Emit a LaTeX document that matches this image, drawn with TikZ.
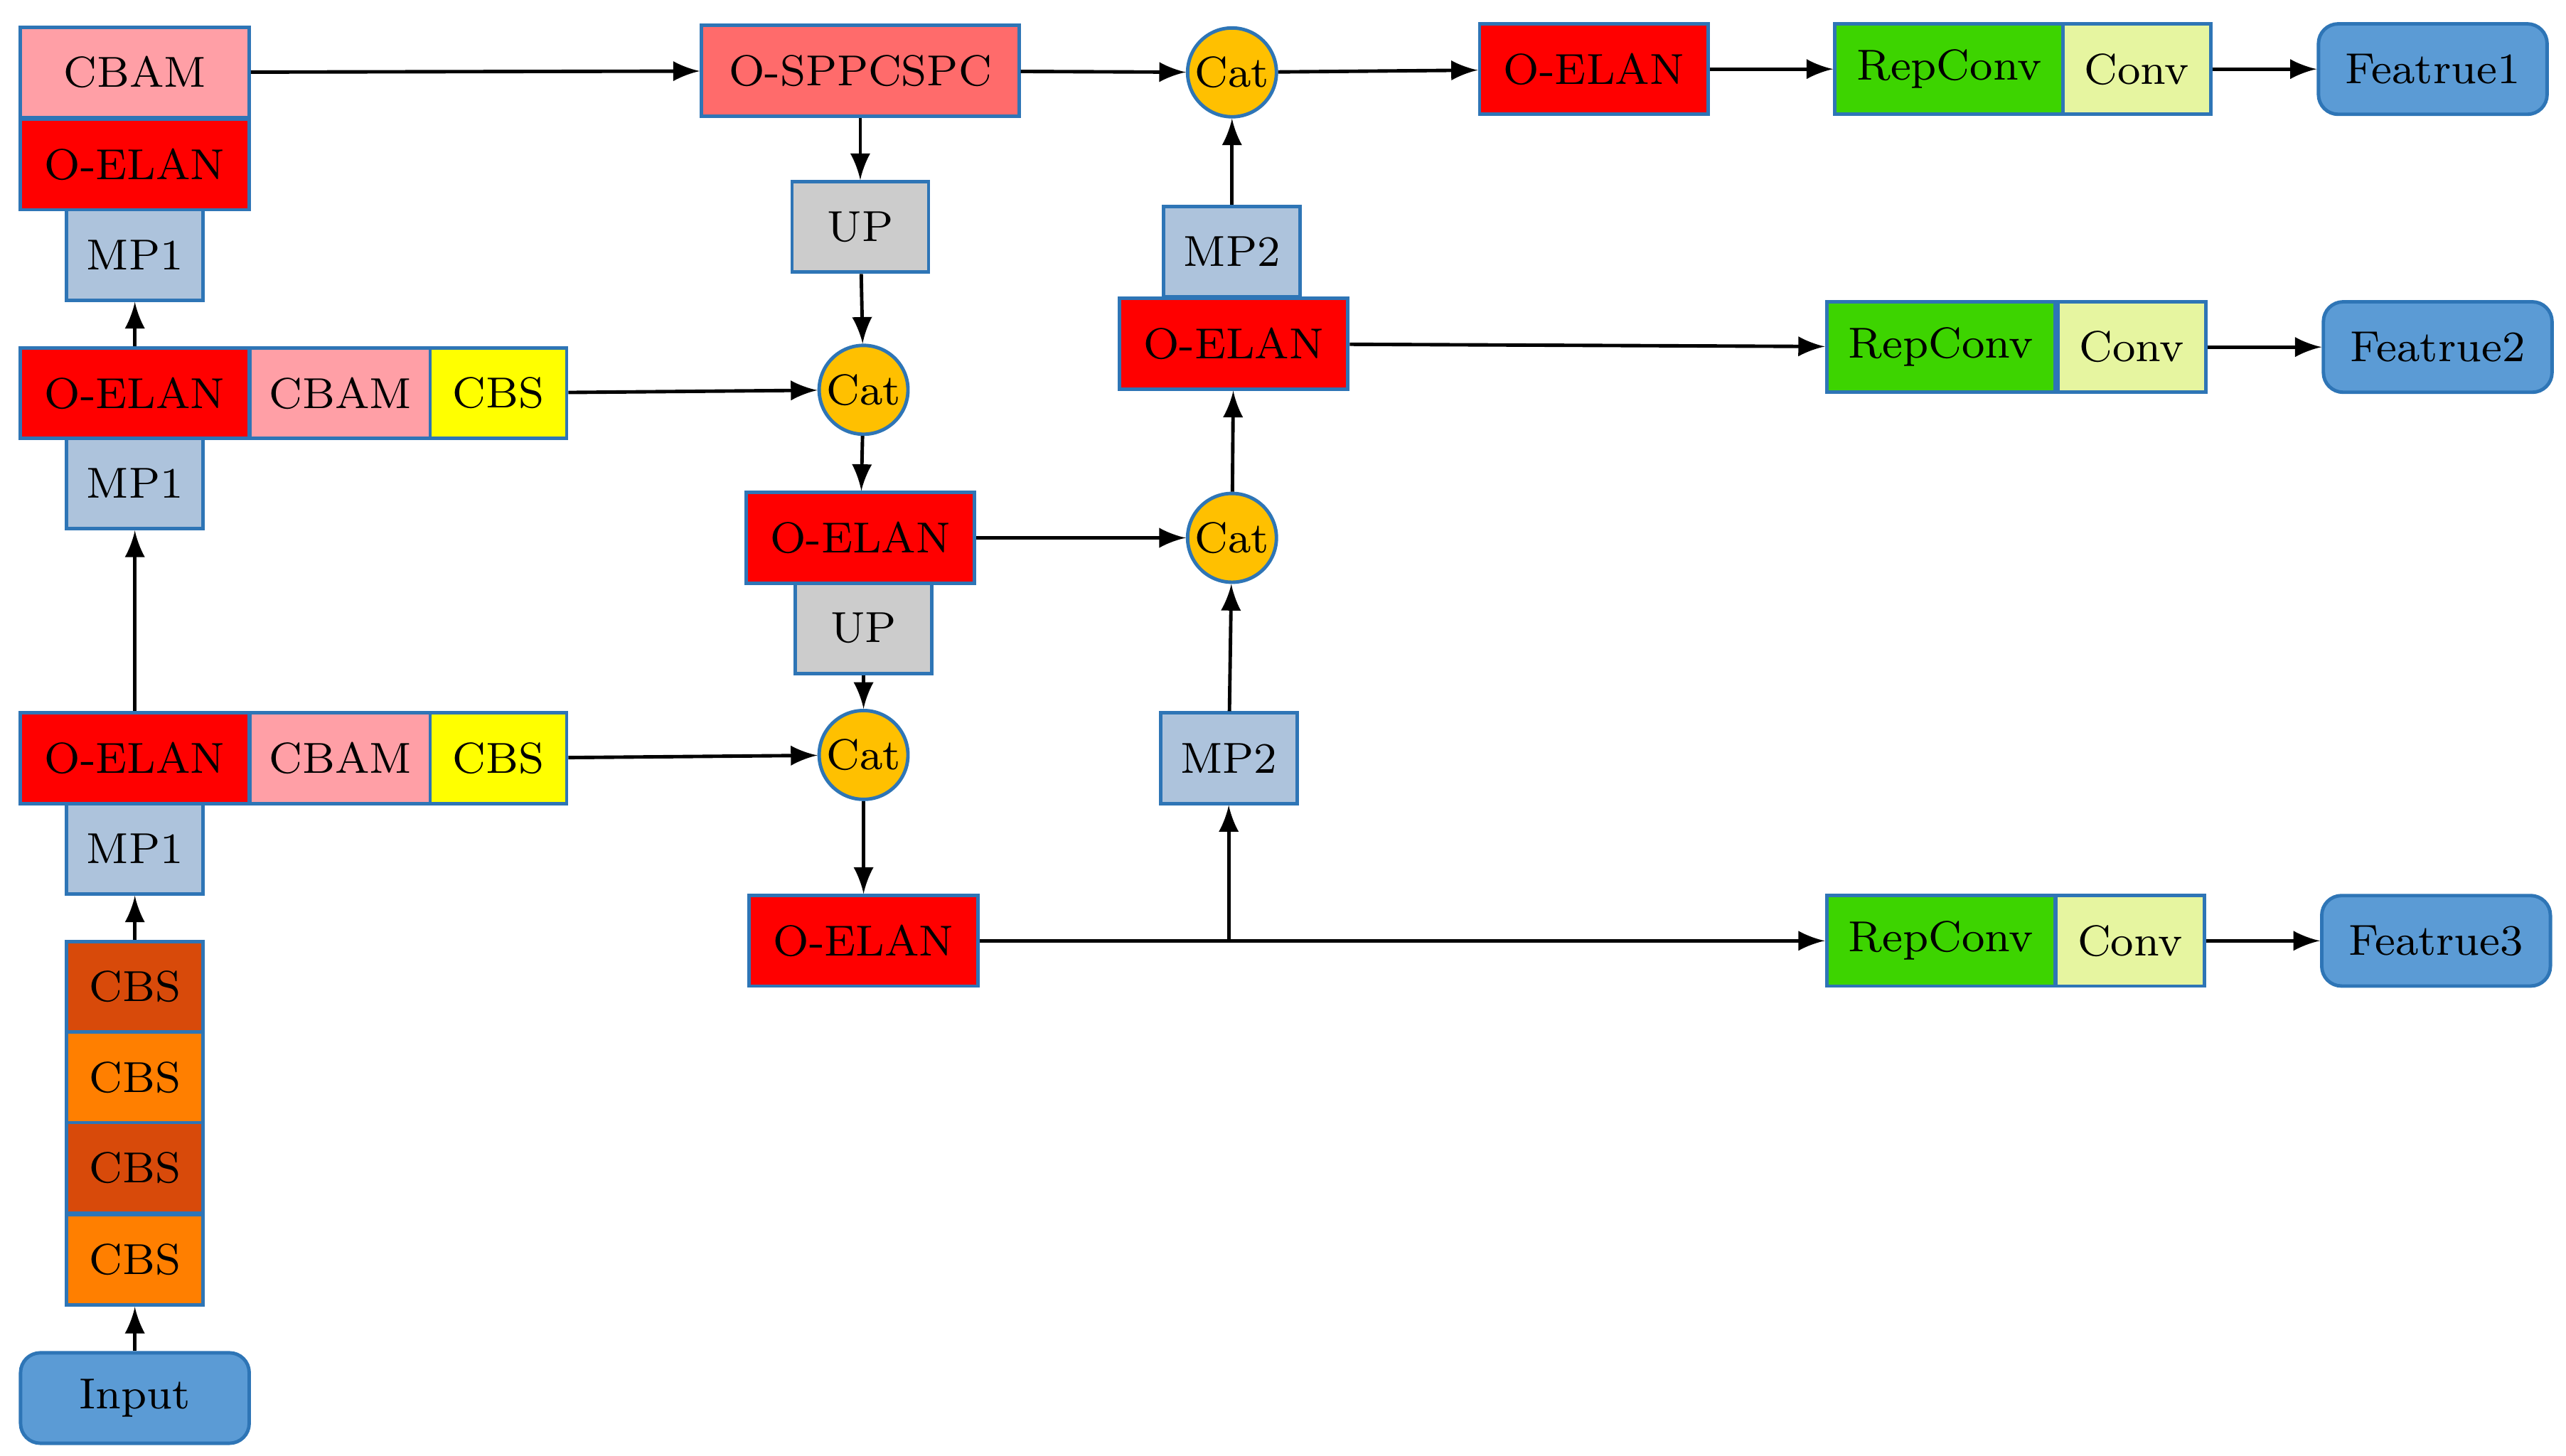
\documentclass[tikz,border=0pt]{standalone}
\usetikzlibrary{positioning}
\definecolor{cbam}{HTML}{FF9FA6}
\definecolor{elan}{HTML}{FF0000}
\definecolor{mpc}{HTML}{ADC3DC}
\definecolor{cbsy}{HTML}{FFFF00}
\definecolor{cbsd}{HTML}{D84A0A}
\definecolor{cbso}{HTML}{FF7F00}
\definecolor{inb}{HTML}{5B9BD5}
\definecolor{spp}{HTML}{FF6B6B}
\definecolor{upc}{HTML}{CCCCCC}
\definecolor{catc}{HTML}{FFC000}
\definecolor{repc}{HTML}{3DD400}
\definecolor{convc}{HTML}{E6F5A0}
\definecolor{edge}{HTML}{2E75B6}
\begin{document}
\begin{tikzpicture}[x=0.1mm,y=-0.1mm,
  box/.style={draw=edge,line width=0.6pt,inner sep=0pt,font=\fontsize{7.5}{8}\selectfont,minimum height=5.5mm},
  w14/.style={box,minimum width=13.9mm},
  w11/.style={box,minimum width=11mm},
  w8/.style={box,minimum width=8.3mm},
  w9/.style={box,minimum width=9mm},
  term/.style={box,fill=inb,rounded corners=1.2mm,minimum width=13.9mm},
  cat/.style={circle,draw=edge,line width=0.6pt,fill=catc,inner sep=0pt,minimum size=5.4mm,font=\fontsize{7.5}{8}\selectfont},
  arr/.style={->,>=latex,line width=0.6pt}]
\useasboundingbox (0,0) rectangle (1560,885);
% backbone
\node[w14,fill=cbam] (cbamA) at (82,44) {CBAM};
\node[w14,fill=elan] (elanA) at (82,100) {O-ELAN};
\node[w8,fill=mpc] (mpA) at (82,155) {MP1};
\node[w14,fill=elan] (elanB) at (82,239) {O-ELAN};
\node[w11,fill=cbam] (cbamB) at (207,239) {CBAM};
\node[w8,fill=cbsy] (cbsB) at (303,239) {CBS};
\node[w8,fill=mpc] (mpB) at (82,294) {MP1};
\node[w14,fill=elan] (elanC) at (82,461) {O-ELAN};
\node[w11,fill=cbam] (cbamC) at (207,461) {CBAM};
\node[w8,fill=cbsy] (cbsC) at (303,461) {CBS};
\node[w8,fill=mpc] (mpC) at (82,516) {MP1};
\node[w8,fill=cbsd] (cbs1) at (82,600) {CBS};
\node[w8,fill=cbso] (cbs2) at (82,655) {CBS};
\node[w8,fill=cbsd] (cbs3) at (82,710) {CBS};
\node[w8,fill=cbso] (cbs4) at (82,766) {CBS};
\node[term] (input) at (82,850) {Input};
% neck
\node[box,fill=spp,minimum width=19.3mm] (spp) at (523,43) {O-SPPCSPC};
\node[w8,fill=upc] (upA) at (523,138) {UP};
\node[cat] (catA) at (525,237) {Cat};
\node[w14,fill=elan] (elanD) at (523,327) {O-ELAN};
\node[w8,fill=upc] (upB) at (525,382) {UP};
\node[cat] (catB) at (525,459) {Cat};
\node[w14,fill=elan] (elanE) at (525,572) {O-ELAN};
\node[cat] (catC) at (749,44) {Cat};
\node[w8,fill=mpc] (mpD) at (749,153) {MP2};
\node[w14,fill=elan] (elanF) at (750,209) {O-ELAN};
\node[cat] (catD) at (749,327) {Cat};
\node[w8,fill=mpc] (mpE) at (747,461) {MP2};
% head
\node[w14,fill=elan] (elanG) at (969,42) {O-ELAN};
\node[w14,fill=repc] (repA) at (1185,42) {RepConv};
\node[w9,fill=convc] (convA) at (1299,42) {Conv};
\node[term] (featA) at (1479,42) {Featrue1};
\node[w14,fill=repc] (repB) at (1180,211) {RepConv};
\node[w9,fill=convc] (convB) at (1296,211) {Conv};
\node[term] (featB) at (1482,211) {Featrue2};
\node[w14,fill=repc] (repC) at (1180,572) {RepConv};
\node[w9,fill=convc] (convC) at (1295,572) {Conv};
\node[term] (featC) at (1481,572) {Featrue3};
\coordinate (br) at (747,572);
% connectors
\draw[arr] (input) -- (cbs4);
\draw[arr] (cbs1) -- (mpC);
\draw[arr] (elanC) -- (mpB);
\draw[arr] (elanB) -- (mpA);
\draw[arr] (cbamA) -- (spp);
\draw[arr] (spp) -- (upA);
\draw[arr] (upA) -- (catA);
\draw[arr] (cbsB) -- (catA);
\draw[arr] (catA) -- (elanD);
\draw[arr] (upB) -- (catB);
\draw[arr] (cbsC) -- (catB);
\draw[arr] (catB) -- (elanE);
\draw[arr] (elanE) -- (repC);
\draw[arr] (br) -- (mpE);
\draw[arr] (mpE) -- (catD);
\draw[arr] (elanD) -- (catD);
\draw[arr] (catD) -- (elanF);
\draw[arr] (elanF) -- (repB);
\draw[arr] (mpD) -- (catC);
\draw[arr] (spp) -- (catC);
\draw[arr] (catC) -- (elanG);
\draw[arr] (elanG) -- (repA);
\draw[arr] (convA) -- (featA);
\draw[arr] (convB) -- (featB);
\draw[arr] (convC) -- (featC);
\end{tikzpicture}
\end{document}
